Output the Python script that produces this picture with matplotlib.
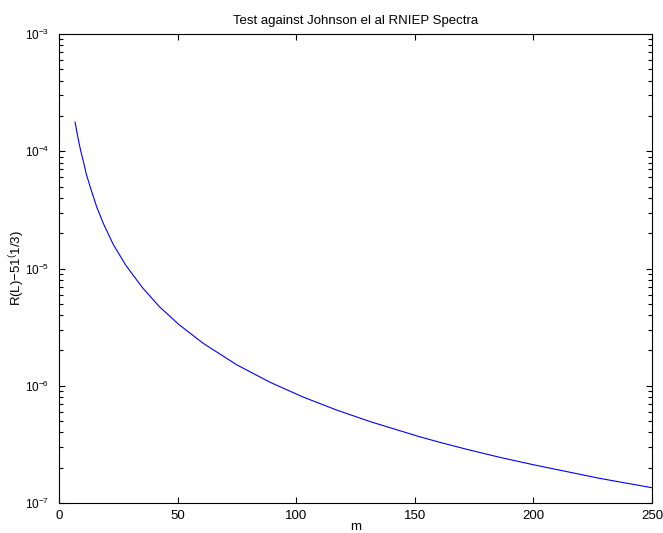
import matplotlib
matplotlib.use("Agg")
import matplotlib.pyplot as plt
from matplotlib.ticker import NullFormatter

plt.rcParams["font.family"] = ["Liberation Sans", "DejaVu Sans"]
plt.rcParams["mathtext.fontset"] = "custom"
plt.rcParams["mathtext.rm"] = "Liberation Sans"
plt.rcParams["mathtext.it"] = "Liberation Sans"

# values
m = [6.75, 7.0, 7.5, 8.5, 9.3, 10.2, 11.5, 13.1, 15.9, 18.7, 22.9, 28.1,
     35.1, 42.2, 50.6, 60.8, 74.9, 89.0, 103.0, 117.1, 131.1, 151.9,
     160.6, 171.9, 185.9, 200.0, 228.1, 250.0]
resid = [1.77e-4, 1.68e-4, 1.47e-4, 1.16e-4, 9.8e-5, 8.3e-5, 6.4e-5, 5.0e-5,
         3.35e-5, 2.42e-5, 1.6e-5, 1.07e-5, 6.9e-6, 4.75e-6, 3.32e-6, 2.3e-6,
         1.51e-6, 1.07e-6, 8.0e-7, 6.2e-7, 4.95e-7, 3.68e-7, 3.29e-7, 2.87e-7,
         2.45e-7, 2.12e-7, 1.62e-7, 1.35e-7]
x_ticks = [0, 50, 100, 150, 200, 250]
y_major = [1e-7, 1e-6, 1e-5, 1e-4, 1e-3]
y_minor = [k * d for d in y_major[:-1] for k in range(2, 10)]

fig = plt.figure(figsize=(6.63, 5.33), dpi=100)
ax = fig.add_axes([59 / 663, 30 / 533, (652 - 59) / 663, (503 - 34) / 533])

ax.semilogy(m, resid, color="#0000ff", linewidth=0.8)

ax.set_xlim(0, 250)
ax.set_ylim(1e-7, 1e-3)
ax.set_xticks(x_ticks)
ax.set_yticks(y_major)
ax.set_yticks(y_minor, minor=True)
ax.yaxis.set_minor_formatter(NullFormatter())
ax.tick_params(which="both", direction="in", top=True, right=True)
ax.tick_params(axis="x", labelsize=9.5, pad=5)
ax.tick_params(axis="y", which="major", labelsize=8.5, pad=7)
ax.tick_params(which="major", length=4.3, width=0.8)
ax.tick_params(axis="y", which="minor", length=3.0, width=0.8, left=True, right=True)
for s in ax.spines.values():
    s.set_linewidth(0.8)

ax.set_title("Test against Johnson el al RNIEP Spectra", fontsize=9.5, pad=7)
ax.set_xlabel("m", fontsize=9.5, labelpad=-1)
ax.set_ylabel(r"R(L)$\mathregular{-51^{(}}$1/3)", fontsize=9.5)
ax.yaxis.set_label_coords(-(59 - 27) / 593, 0.5)

fig.savefig("out.png", dpi=100)
